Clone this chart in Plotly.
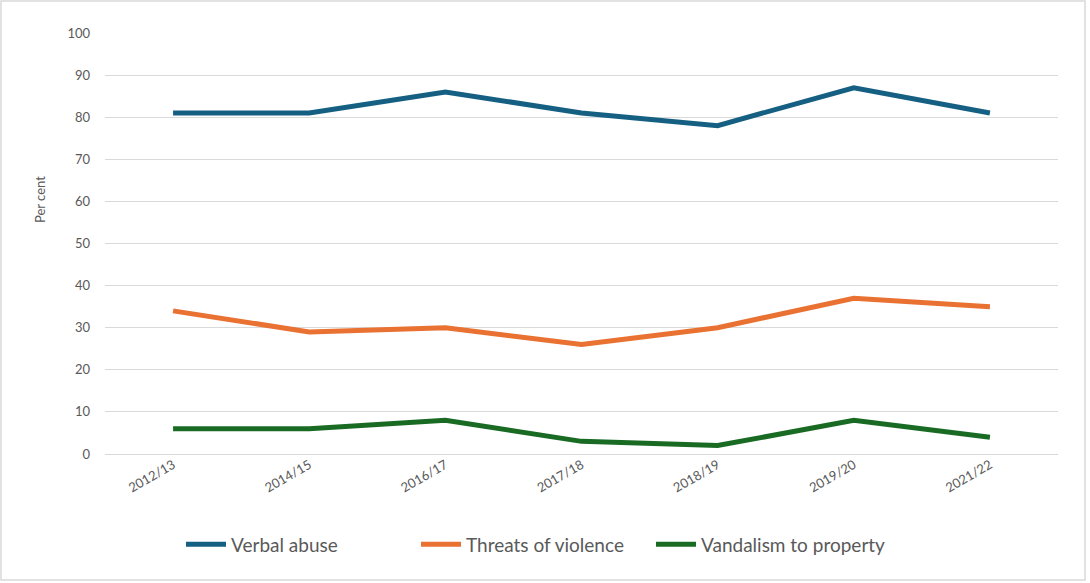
import plotly.graph_objects as go

categories = ["2012/13", "2014/15", "2016/17", "2017/18", "2018/19", "2019/20", "2021/22"]
verbal_abuse = [81, 81, 86, 81, 78, 87, 81]
threats_of_violence = [34, 29, 30, 26, 30, 37, 35]
vandalism_to_property = [6, 6, 8, 3, 2, 8, 4]
y_ticks = [0, 10, 20, 30, 40, 50, 60, 70, 80, 90, 100]

series = [
    ("Verbal abuse", verbal_abuse, "#156082"),
    ("Threats of violence", threats_of_violence, "#E97132"),
    ("Vandalism to property", vandalism_to_property, "#196B24"),
]

fig = go.Figure()
for name, vals, color in series:
    fig.add_trace(go.Scatter(
        x=categories, y=vals, name=name, mode="lines",
        line=dict(color=color, width=5, shape="linear"),
    ))

font_family = "Lato, 'Open Sans', sans-serif"
fig.update_layout(
    width=1090, height=583,
    margin=dict(l=105, r=32, t=33, b=129),
    paper_bgcolor="white", plot_bgcolor="white",
    font=dict(family=font_family, color="#595959", size=13),
    showlegend=True,
    legend=dict(orientation="h", x=(181 - 105) / 953, xanchor="left", y=-0.215, yanchor="middle",
                font=dict(size=19, color="#595959"), itemwidth=40, entrywidth=180,
                traceorder="normal"),
    xaxis=dict(type="category", tickangle=-30, showgrid=False, showline=False,
               ticks="", tickfont=dict(size=13, color="#595959"),
               range=[-0.5, len(categories) - 0.5]),
    yaxis=dict(range=[0, 100], tickvals=y_ticks, showgrid=True, gridcolor="#d9d9d9",
               gridwidth=1, zeroline=True, zerolinecolor="#d9d9d9", zerolinewidth=1,
               showline=False, ticks="", ticklabelstandoff=14,
               tickfont=dict(size=13, color="#595959")),
    shapes=[dict(type="rect", xref="paper", yref="paper",
                 x0=(1 - 105) / 953, x1=(1085 - 105) / 953,
                 y0=(454 - 580) / 421, y1=(454 - 1) / 421,
                 line=dict(color="#d9d9d9", width=1.5), fillcolor="rgba(0,0,0,0)",
                 layer="below")],
    annotations=[dict(text="Per cent", xref="paper", yref="paper",
                      x=(40 - 105) / 953, y=(454 - 200) / 421, textangle=-90,
                      showarrow=False, font=dict(size=13, color="#595959"),
                      xanchor="center", yanchor="middle")],
)

fig.write_html("out.html")
